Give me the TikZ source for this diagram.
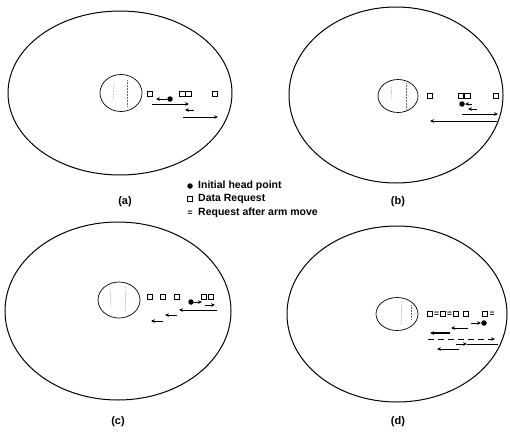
\documentclass[tikz,border=0pt]{standalone}
\usepackage{fontspec}
\setmainfont{Liberation Sans}
\usetikzlibrary{arrows.meta,shapes.geometric}
\tikzset{
  platter/.style={draw, ellipse, line width=1pt, inner sep=0pt},
  hub/.style={draw, ellipse, line width=0.7pt, inner sep=0pt},
  texture/.style={densely dotted, line width=0.5pt, black!60},
  req/.style={draw, line width=0.7pt, minimum width=5.5pt, minimum height=5pt, inner sep=0pt},
  head/.style={circle, fill, minimum size=5.5pt, inner sep=0pt},
  moved/.style={inner sep=0pt, font=\bfseries\fontsize{8.5}{8.5}\selectfont},
  caption/.style={font=\bfseries\fontsize{11}{13}\selectfont},
  keytext/.style={anchor=west, inner sep=0pt, font=\bfseries\fontsize{10.5}{12}\selectfont},
  track/.style={->, line width=0.7pt},
}
\begin{document}
\begin{tikzpicture}[x=1pt, y=-1pt, >={Stealth[length=4pt,width=3.6pt]}]
\useasboundingbox (0,0) rectangle (510,431);
\node[platter, minimum width=224pt, minimum height=164pt] (pa) at (120,93) {};
\node[hub, minimum width=42pt, minimum height=37pt] (ha) at (121,93) {};
\draw[texture] (127,80) -- (127,106);
\draw[texture] (114,84) -- (113,102);
\node[req] (ra1) at (150,94) {};
\node[req] (ra2) at (182.5,94) {};
\node[req] (ra3) at (188.5,94) {};
\node[req] (ra4) at (215,94) {};
\node[head] (sa) at (170,99) {};
\draw[track] (sa) -- (156,99);
\draw[track] (152,104) -- (189,104);
\draw[track] (194,110) -- (185,110);
\draw[track] (183,117) -- (218,117);
\node[caption] (ca) at (125,202) {(a)};
\node[platter, minimum width=214pt, minimum height=176pt] (pb) at (396,95) {};
\node[hub, minimum width=40pt, minimum height=33pt] (hb) at (398,96) {};
\draw[texture] (406,83) -- (406,109);
\draw[texture] (391,86) -- (392,100);
\node[req] (rb1) at (430,96) {};
\node[req] (rb2) at (461,96) {};
\node[req] (rb3) at (467.5,96) {};
\node[req] (rb4) at (496,96) {};
\node[head] (sb) at (462,104) {};
\draw[track] (472,104) -- (sb);
\draw[track] (477,109) -- (468,109);
\draw[track] (462,114) -- (498,114);
\draw[track] (497,121) -- (430,121);
\node[caption] (cb) at (398,202) {(b)};
\node[head] (k1) at (190,186) {};
\node[keytext] (t1) at (198,186) {Initial head point};
\node[req] (k2) at (190,199) {};
\node[keytext] (t2) at (198,199) {Data Request};
\node[moved] (k3) at (190,213) {=};
\node[keytext] (t3) at (198,213) {Request after arm move};
\node[platter, minimum width=226pt, minimum height=178pt] (pc) at (118,311) {};
\node[hub, minimum width=42pt, minimum height=36pt] (hc) at (119,300) {};
\draw[texture] (126,286) -- (125,314);
\draw[texture] (110,290) -- (111,308);
\node[req] (rc1) at (150,297) {};
\node[req] (rc2) at (163,297) {};
\node[req] (rc3) at (177,297) {};
\node[req] (rc4) at (204,297) {};
\node[req] (rc5) at (211,297) {};
\node[head] (sc) at (191,302) {};
\draw[track] (sc) -- (202,302);
\draw[track] (205,305) -- (215,305);
\draw[track] (217,310) -- (179,310);
\draw[track] (177,315) -- (165,315);
\draw[track] (163,321) -- (151,321);
\node[caption] (cc) at (118,422) {(c)};
\node[platter, minimum width=220pt, minimum height=176pt] (pd) at (397,314) {};
\node[hub, minimum width=42pt, minimum height=33pt] (hd) at (397,314) {};
\draw[texture] (402,301) -- (401,325);
\draw[texture] (411,305) -- (411,320);
\node[req] (rd1) at (430,314) {};
\node[moved] (md1) at (436.5,314) {=};
\node[req] (rd2) at (443,314) {};
\node[moved] (md2) at (449.5,314) {=};
\node[req] (rd3) at (456,314) {};
\node[req] (rd4) at (466,314) {};
\node[req] (rd5) at (485,314) {};
\node[moved] (md3) at (492,314) {=};
\node[head] (sd) at (484,323) {};
\draw[track] (471,323) -- (sd);
\draw[track] (468,328) -- (451,328);
\draw[track, line width=1.2pt] (450,333) -- (430,333);
\draw[track, dashed, dash pattern=on 6pt off 4pt] (428,339) -- (495,339);
\draw[track] (456,344) -- (467,344);
\draw[line width=0.7pt] (467,344) -- (498,344);
\draw[track] (459,349) -- (437,349);
\node[caption] (cd) at (398,422) {(d)};
\end{tikzpicture}
\end{document}
